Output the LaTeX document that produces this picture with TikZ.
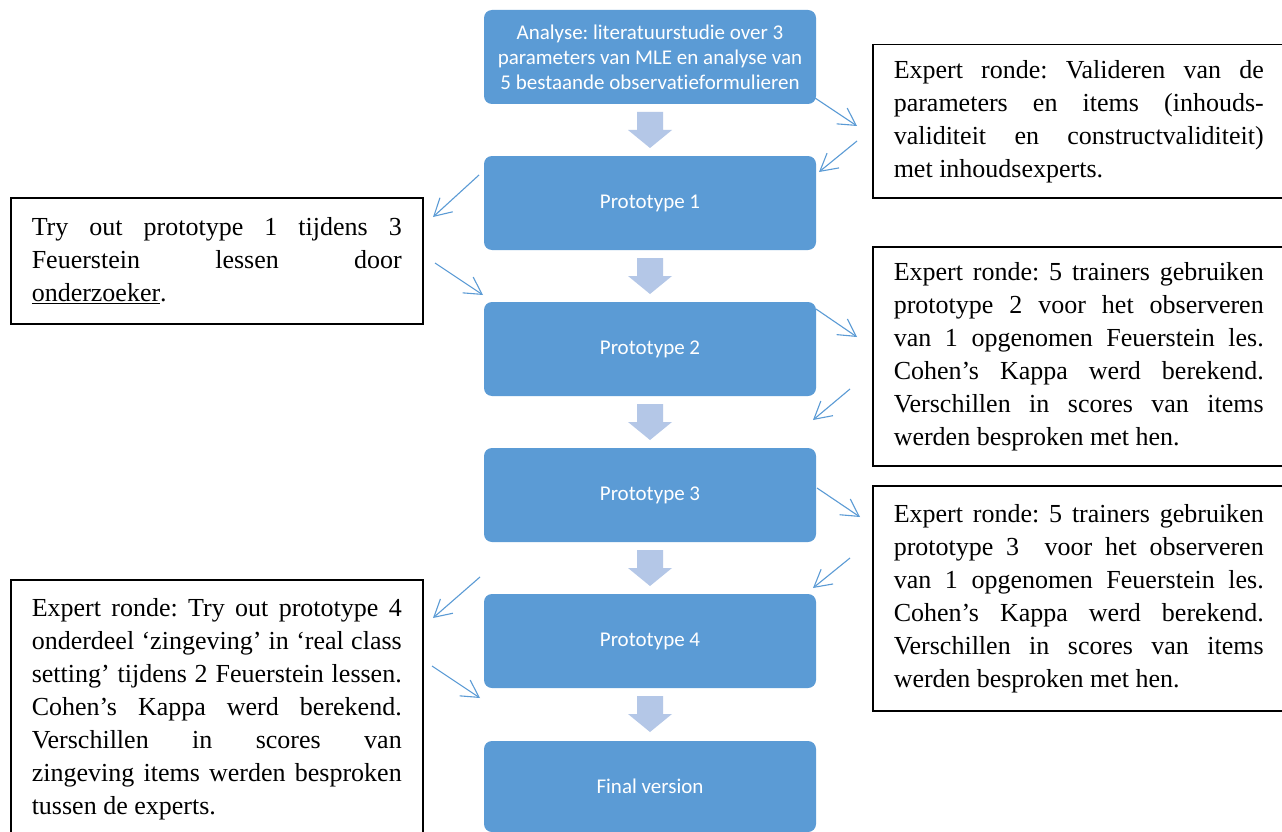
\documentclass[tikz,border=0pt]{standalone}
\usepackage{fontspec}
\setmainfont{Liberation Serif}
\newfontfamily\calib[Ligatures={NoCommon}]{Carlito}
\usetikzlibrary{arrows.meta}
\definecolor{boxblue}{HTML}{5B9BD5}
\definecolor{lightblue}{HTML}{B4C7E7}
\frenchspacing
\begin{document}
\begin{tikzpicture}[x=1pt,y=-1pt,
  stage/.style={fill=boxblue, rounded corners=8pt, minimum width=332pt, minimum height=94pt,
    text=white, font=\calib\fontsize{21}{25}\selectfont, align=center, inner sep=0pt},
  note/.style={draw=black, line width=1.5pt, text width=370pt, inner xsep=21pt, inner ysep=0pt,
    align=justify, font=\frenchspacing\fontsize{26}{33}\selectfont, anchor=north west},
  flow/.style={fill=lightblue, draw=none},
  link/.style={draw=boxblue, line width=1.1pt, -{Straight Barb[length=17pt,width=19pt]}}]
\clip (0,0) rectangle (1282,832);
\fill[white] (0,0) rectangle (1282,832);

% stages
\node[stage] (s0) at (650,57) {Analyse: literatuurstudie over 3\\parameters van MLE en analyse van\\5 bestaande observatieformulieren};
\node[stage] (s1) at (650,203) {Prototype 1};
\node[stage] (s2) at (650,349) {Prototype 2};
\node[stage] (s3) at (650,495) {Prototype 3};
\node[stage] (s4) at (650,641) {Prototype 4};
\node[stage, minimum height=91pt] (s5) at (650,786.5) {Final version};

% block arrows
\foreach \yy in {112,258,404,550,696}{
  \fill[flow] (637,\yy) -- (663,\yy) -- (663,{\yy+18}) -- (672,{\yy+18}) -- (650,{\yy+36})
     -- (628,{\yy+18}) -- (637,{\yy+18}) -- cycle;
}

% notes
\node[note, minimum height=153pt] (r1) at (872,44) {Expert ronde: Valideren van de\linebreak
parameters en items (inhouds-\linebreak validiteit en constructvaliditeit)\linebreak
met inhoudsexperts.};
\node[note, minimum height=126pt] (l1) at (10,197) {Try out prototype 1 tijdens 3\linebreak
Feuerstein lessen door\linebreak \underline{onderzoeker}.};
\node[note, minimum height=219pt] (r2) at (872,246) {Expert ronde: 5 trainers gebruiken\linebreak
prototype 2 voor het observeren\linebreak van 1 opgenomen Feuerstein les.\linebreak
Cohen’s Kappa werd berekend.\linebreak Verschillen in scores van items\linebreak
werden besproken met hen.};
\node[note, minimum height=225pt] (r3) at (872,485) {Expert ronde: 5 trainers gebruiken\linebreak
prototype 3\ \ voor het observeren\linebreak van 1 opgenomen Feuerstein les.\linebreak
Cohen’s Kappa werd berekend.\linebreak Verschillen in scores van items\linebreak
werden besproken met hen.};
\node[note, minimum height=258pt] (l2) at (10,579) {Expert ronde: Try out prototype 4\linebreak
onderdeel ‘zingeving’ in ‘real class\linebreak setting’ tijdens 2 Feuerstein lessen.\linebreak
Cohen’s Kappa werd berekend.\linebreak Verschillen in scores van\linebreak
zingeving items werden besproken\linebreak tussen de experts.};

% thin arrows
\coordinate (a1s) at (815,98);  \coordinate (a1e) at (857,126);
\coordinate (a2s) at (857,141); \coordinate (a2e) at (819,172);
\coordinate (a3s) at (479,175); \coordinate (a3e) at (433,217);
\coordinate (a4s) at (435,263); \coordinate (a4e) at (483,295);
\coordinate (a5s) at (816,309); \coordinate (a5e) at (857,337);
\coordinate (a6s) at (850,389); \coordinate (a6e) at (813,420);
\coordinate (a7s) at (817,488); \coordinate (a7e) at (860,517);
\coordinate (a8s) at (850,558); \coordinate (a8e) at (813,588);
\coordinate (a9s) at (480,577); \coordinate (a9e) at (433,618);
\coordinate (a10s) at (432,666); \coordinate (a10e) at (480,698);
\foreach \i in {1,...,10}{ \draw[link] (a\i s) -- (a\i e); }
\end{tikzpicture}
\end{document}
